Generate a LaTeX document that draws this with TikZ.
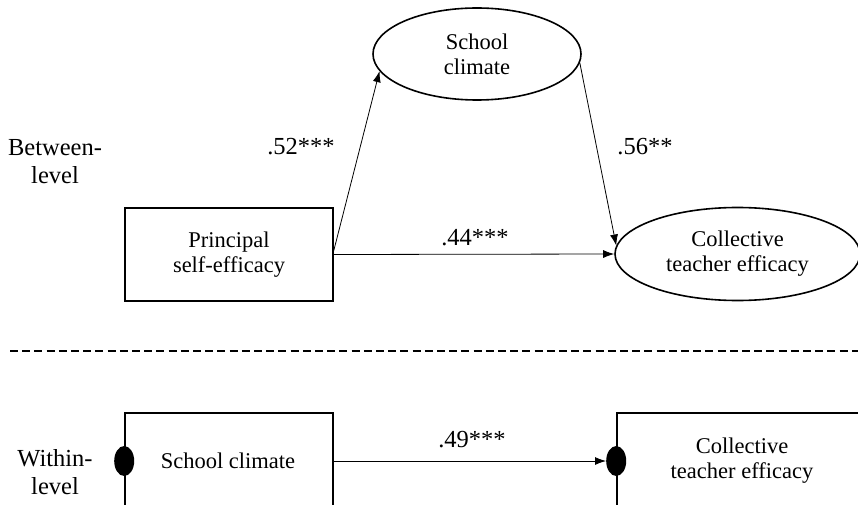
\documentclass[tikz,border=0pt]{standalone}
\usepackage{fontspec}
\setmainfont{Liberation Serif}
\usetikzlibrary{shapes.geometric,arrows.meta}
\begin{document}
\begin{tikzpicture}[x=1pt,y=-1pt,
  every node/.style={font=\fontsize{22.5}{25}\selectfont, align=center, inner sep=0pt},
  lab/.style={font=\fontsize{24.5}{28}\selectfont},
  boxnode/.style={draw, line width=1.6pt, rectangle},
  ovalnode/.style={draw, line width=1.6pt, ellipse},
  dotnode/.style={fill=black, ellipse, minimum width=20, minimum height=30},
  arr/.style={-{Latex[length=11pt,width=8pt]}, line width=0.8pt}]
\useasboundingbox (0,0) rectangle (858,505);
\clip (0,0) rectangle (858,505);
% between level
\node[ovalnode, minimum width=208, minimum height=92] (sc) at (477,54) {School\\climate};
\node[boxnode, minimum width=208, minimum height=93] (pse) at (229,254.5) {Principal\\self-efficacy};
\node[ovalnode, minimum width=245, minimum height=93] (cte) at (737.5,254) {Collective\\teacher efficacy};
\draw[arr] ([yshift=4pt]pse.east) -- (sc.190);
\draw[arr] (sc.355) -- (cte.176);
\draw[arr] (pse.east) -- (cte.west);
\node[lab, anchor=base] (l52) at (301,155) {.52***};
\node[lab, anchor=base] (l56) at (645,155) {.56**};
\node[lab, anchor=base] (l44) at (475,245) {.44***};
\node[lab] (bl) at (55,162) {Between-\\level};
% divider
\coordinate (dl) at (10,351);
\coordinate (dr) at (858,351);
\draw[dash pattern=on 8pt off 4.2pt, line width=1.6pt] (dl) -- (dr);
% within level
\node[boxnode, minimum width=208, minimum height=96] (sc2) at (229,461) {};
\node (sc2t) at (228,461) {School climate};
\node[boxnode, minimum width=250, minimum height=96] (cte2) at (742,461) {Collective\\teacher efficacy};
\node[dotnode] (d1) at (sc2.west) {};
\node[dotnode] (d2) at (cte2.west) {};
\draw[arr] (sc2.east) -- (d2.west);
\node[lab, anchor=base] (l49) at (472,447) {.49***};
\node[lab] (wl) at (55,472) {Within-\\level};
\end{tikzpicture}
\end{document}
